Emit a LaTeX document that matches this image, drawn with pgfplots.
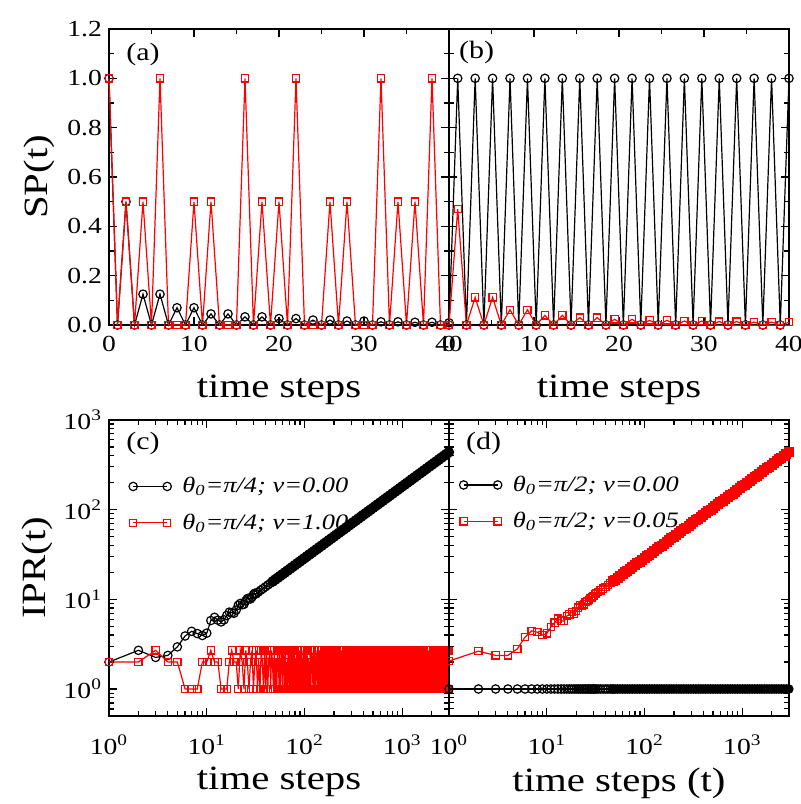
\documentclass[border=0pt]{standalone}
\usepackage{fontspec}
\setmainfont{Liberation Serif}[FakeStretch=1.2]
\usepackage{pgfplots}
\usepackage{pgfplotstable}
\pgfplotsset{compat=1.18}

\pgfplotsset{
  panel/.style={
    scale only axis, width=170pt, height=148pt, anchor=south west,
    axis line style={line width=0.75pt},
    tick style={black, line width=0.6pt},
    major tick length=4pt, minor tick length=2.3pt,
    tick align=inside, xtick pos=both, ytick pos=both,
    clip=false,
    tick label style={font=\fontsize{11.5}{13}\selectfont},
    label style={font=\fontsize{17}{19}\selectfont},
  },
  linpanel/.style={
    xmin=0, xmax=40, ymin=0, ymax=1.2,
    xtick={0,10,20,30,40}, xticklabels={0,10,20,30,40}, minor x tick num=1,
    ytick={0,0.2,0.4,0.6,0.8,1.0,1.2}, minor y tick num=1,
    xticklabel style={yshift=-2pt},
    xlabel={time steps},
    xlabel style={at={(axis description cs:0.5,-0.218)}, anchor=center},
  },
  logpanel/.style={
    xmin=1, xmax=3000, ymin=0.5, ymax=1000,
    xtick={1,10,100,1000}, ytick={1,10,100,1000},
    xticklabels={10\textsuperscript{0},10\textsuperscript{1},10\textsuperscript{2},10\textsuperscript{3}},
    minor xtick={2,3,4,5,6,7,8,9,20,30,40,50,60,70,80,90,200,300,400,500,600,700,800,900,2000,3000},
    minor ytick={0.5,0.6,0.7,0.8,0.9,2,3,4,5,6,7,8,9,20,30,40,50,60,70,80,90,200,300,400,500,600,700,800,900},
    xticklabel style={yshift=-6pt},
    legend cell align=left,
  },
  blk/.style={black, line width=0.6pt, mark=o, mark size=2.1pt, mark options={solid, line width=0.6pt}},
  rsq/.style={red, line width=0.6pt, mark=square, mark size=1.8pt, mark options={solid, line width=0.6pt}},
  legend image code/.code={\draw[#1] plot coordinates {(0pt,0pt) (17pt,0pt)};},
}

% dense part of the growing IPR curves (c black, d red) and of the flat (d) black
\pgfplotstableread{
t ipr one
47.32 15.85 1
50.12 16.60 1
53.09 17.38 1
56.23 18.20 1
59.57 19.05 1
63.10 19.95 1
66.83 20.89 1
70.80 21.88 1
74.99 22.91 1
79.43 23.99 1
84.14 25.12 1
89.13 26.30 1
94.41 27.54 1
100 28.84 1
105.9 30.20 1
112.2 31.62 1
118.9 33.11 1
125.9 34.67 1
133.4 36.31 1
141.3 38.02 1
149.6 39.81 1
158.5 41.69 1
167.9 43.65 1
177.8 45.71 1
188.4 47.86 1
199.5 50.12 1
211.4 52.48 1
223.9 54.95 1
237.1 57.54 1
251.2 60.26 1
266.1 63.10 1
281.8 66.07 1
298.5 69.18 1
316.2 72.44 1
335.0 75.86 1
354.8 79.43 1
375.8 83.18 1
398.1 87.10 1
421.7 91.20 1
446.7 95.50 1
473.2 100.0 1
501.2 104.7 1
530.9 109.6 1
562.3 114.8 1
595.7 120.2 1
631.0 125.9 1
668.3 131.8 1
708.0 138.0 1
749.9 144.5 1
794.3 151.4 1
841.4 158.5 1
891.3 166.0 1
944.1 173.8 1
1000 182.0 1
1059 190.5 1
1122 199.5 1
1189 208.9 1
1259 218.8 1
1334 229.1 1
1413 239.9 1
1496 251.2 1
1585 263.0 1
1679 275.4 1
1778 288.4 1
1884 302.0 1
1995 316.2 1
2114 331.1 1
2239 346.7 1
2371 363.1 1
2512 380.2 1
2661 398.1 1
2818 416.9 1
2985 436.5 1
}\bandtab

\begin{document}
\begin{tikzpicture}
\useasboundingbox (0,0) rectangle (400.5pt,402pt);

% (a)
\begin{axis}[panel, linpanel, at={(54.5pt,239.5pt)},
  yticklabels={0.0,0.2,0.4,0.6,0.8,1.0,1.2},
  ylabel={SP(t)},
  ylabel style={at={(axis description cs:-0.206,0.5)}, anchor=center}]
\addplot[blk] coordinates {(0,1.0)(1,0)(2,0.5)(3,0)(4,0.125)(5,0)(6,0.125)(7,0)(8,0.07)(9,0)(10,0.07)(11,0)(12,0.045)(13,0)(14,0.045)(15,0)(16,0.033)(17,0)(18,0.033)(19,0)(20,0.026)(21,0)(22,0.026)(23,0)(24,0.02)(25,0)(26,0.02)(27,0)(28,0.016)(29,0)(30,0.016)(31,0)(32,0.013)(33,0)(34,0.013)(35,0)(36,0.011)(37,0)(38,0.011)(39,0)(40,0.009)};
\addplot[rsq] coordinates {(0,1)(1,0)(2,0.5)(3,0)(4,0.5)(5,0)(6,1)(7,0)(8,0)(9,0)(10,0.5)(11,0)(12,0.5)(13,0)(14,0)(15,0)(16,1)(17,0)(18,0.5)(19,0)(20,0.5)(21,0)(22,1)(23,0)(24,0)(25,0)(26,0.5)(27,0)(28,0.5)(29,0)(30,0)(31,0)(32,1)(33,0)(34,0.5)(35,0)(36,0.5)(37,0)(38,1)(39,0)(40,0)};
\node[font=\fontsize{12.5}{14}\selectfont] at (rel axis cs:0.1,0.915) {(a)};
\end{axis}

% (b)
\begin{axis}[panel, linpanel, at={(224.5pt,239.5pt)}, yticklabels={}]
\addplot[blk] coordinates {(0,0)(1.026,1)(2.051,0)(3.077,1)(4.103,0)(5.128,1)(6.154,0)(7.179,1)(8.205,0)(9.231,1)(10.256,0)(11.282,1)(12.308,0)(13.333,1)(14.359,0)(15.385,1)(16.410,0)(17.436,1)(18.462,0)(19.487,1)(20.513,0)(21.538,1)(22.564,0)(23.590,1)(24.615,0)(25.641,1)(26.667,0)(27.692,1)(28.718,0)(29.744,1)(30.769,0)(31.795,1)(32.821,0)(33.846,1)(34.872,0)(35.897,1)(36.923,0)(37.949,1)(38.974,0)(40.0,1)};
\addplot[rsq] coordinates {(0,0)(1.026,0.47)(2.051,0)(3.077,0.112)(4.103,0)(5.128,0.112)(6.154,0)(7.179,0.062)(8.205,0)(9.231,0.062)(10.256,0)(11.282,0.039)(12.308,0)(13.333,0.039)(14.359,0)(15.385,0.03)(16.410,0)(17.436,0.03)(18.462,0)(19.487,0.023)(20.513,0)(21.538,0.023)(22.564,0)(23.590,0.019)(24.615,0)(25.641,0.019)(26.667,0)(27.692,0.016)(28.718,0)(29.744,0.016)(30.769,0)(31.795,0.014)(32.821,0)(33.846,0.014)(34.872,0)(35.897,0.012)(36.923,0)(37.949,0.012)(38.974,0)(40.0,0.011)};
\node[font=\fontsize{12.5}{14}\selectfont] at (rel axis cs:0.081,0.922) {(b)};
\end{axis}

% (c)
\begin{loglogaxis}[panel, logpanel, at={(54.5pt,44pt)},
  yticklabels={10\textsuperscript{0},10\textsuperscript{1},10\textsuperscript{2},10\textsuperscript{3}},
  ylabel={IPR(t)},
  ylabel style={at={(axis description cs:-0.21,0.5)}, anchor=center},
  xlabel={time steps},
  xlabel style={at={(axis description cs:0.5,-0.224)}, anchor=center},
  legend style={draw=none, fill=none, anchor=west, row sep=5pt, column sep=3.5pt, font=\fontsize{11}{13}\selectfont, at={(rel axis cs:0.04,0.714)}}]
\addplot[blk] coordinates {(1,2.0)(2,2.7)(3,2.25)(4,2.37)(5,2.95)(6,3.9)(7,4.4)(8,4.15)(9,3.95)(10,4.2)(11,5.8)(12,6.3)(13,5.85)(14,5.6)(15,5.9)(16,6.6)(17,7.2)(18,7.1)(19,7.0)(20,7.6)(21,8.6)(22,9.0)(23,8.7)(24,8.8)(25,9.6)(26,10.2)(27,10.3)(28,10.1)(29,10.6)(30,11.3)(31,11.7)(32,11.5)(33.50,12.02)(35.48,12.59)(37.58,13.18)(39.81,13.80)(42.17,14.45)(44.67,15.14)(47.32,15.85)};
\addlegendentry{\textit{θ\textsubscript{0}=π/4; ν=0.00}}
\addplot[rsq] coordinates {(1,2)(2,2)(3,2.7)(4,2)(5,2)(6,1)(7,1)(8,1)(9,2)(10,2)(11,2.7)(12,2)(13,2)(14,1)(15,1)(16,1)(17,2)(18,2.7)(19,2)(20,2)(21,1)(22,2.7)(23,2)(24,1)(25,2.7)(26,2)(27,1)(28,2)(29,2.7)(30,1)(31,2)(32,2.7)(33,1)(34,2)(35,1)(36,2.7)(37,2)(38,1)(39,2.7)(40,1)
(41,2.7)(42,1)(43,2)(44,2.7)(45,1)(46,2.7)(47,2)(48,1)(49,2.7)(50,1)(51,2)(52,1)(53,2.7)(54,2)(55,1)(56,2.7)(57,1)(58,2)(59,2.7)(60,1)(61,2.7)(62,2)(63,1)(64,2.7)(65,1)(66,2)(67,1)(68,2.7)(69,2)(70,1)(71,2.7)(72,1)(73,2)(74,2.7)(75,1)(76,2.7)(77,2)(78,1)(79,2.7)(80,1)(81,2)(82,1)(83,2.7)(84,2)(85,1)(86,2.7)(87,1)(88,2)(89,2.7)(90,1)(91,2.7)(92,2)(93,1)(94,2.7)(95,1)(96,2)(97,1)(98,2.7)(99,2)(100,1)
(102,2.7)(104,1)(106,2.7)(108,1)(110,2)(112,1)(114,2.7)(116,1)(118,2.7)(120,2)(122,1)(124,2.7)(126,1)(128,2.7)(130,1)(132,2)(134,2.7)(136,1)(138,2.7)(140,1)(142,2.7)(144,2)(146,1)(148,2.7)(150,1)(152,2.7)(154,1)(156,2)(158,2.7)(160,1)(162,2.7)(164,1)(166,2.7)(168,2)(170,1)(172,2.7)(174,1)(176,2.7)(178,1)(180,2)(182,2.7)(184,1)(186,2.7)(188,1)(190,2.7)(192,2)(194,1)(196,2.7)(198,1)(200,2.7)
(204,1)(208,2.7)(212,1)(216,2.7)(220,1)(224,2.7)(228,1)(232,2.7)(236,1)(240,2.7)(244,1)(248,2.7)(252,1)(256,2.7)(260,1)(264,2.7)(268,1)(272,2.7)(276,1)(280,2.7)(284,1)(288,2.7)(292,1)(296,2.7)(300,1)(304,2.7)(308,1)(312,2.7)(316,1)(320,2.7)(324,1)(328,2.7)(332,1)(336,2.7)(340,1)(344,2.7)(348,1)(352,2.7)(356,1)(360,2.7)(364,1)(368,2.7)(372,1)(376,2.7)(380,1)(384,2.7)(388,1)(392,2.7)(396,1)(400,2.7)
(408,1)(416,2.7)(424,1)(432,2.7)(440,1)(448,2.7)(456,1)(464,2.7)(472,1)(480,2.7)(488,1)(496,2.7)(504,1)(512,2.7)(520,1)(528,2.7)(536,1)(544,2.7)(552,1)(560,2.7)(568,1)(576,2.7)(584,1)(592,2.7)(600,1)(608,2.7)(616,1)(624,2.7)(632,1)(640,2.7)(648,1)(656,2.7)(664,1)(672,2.7)(680,1)(688,2.7)(696,1)(704,2.7)(712,1)(720,2.7)(728,1)(736,2.7)(744,1)(752,2.7)(760,1)(768,2.7)(776,1)(784,2.7)(792,1)(800,2.7)
(816,1)(832,2.7)(848,1)(864,2.7)(880,1)(896,2.7)(912,1)(928,2.7)(944,1)(960,2.7)(976,1)(992,2.7)(1008,1)(1024,2.7)(1040,1)(1056,2.7)(1072,1)(1088,2.7)(1104,1)(1120,2.7)(1136,1)(1152,2.7)(1168,1)(1184,2.7)(1200,1)(1216,2.7)(1232,1)(1248,2.7)(1264,1)(1280,2.7)(1296,1)(1312,2.7)(1328,1)(1344,2.7)(1360,1)(1376,2.7)(1392,1)(1408,2.7)(1424,1)(1440,2.7)(1456,1)(1472,2.7)(1488,1)(1504,2.7)(1520,1)(1536,2.7)(1552,1)(1568,2.7)(1584,1)(1600,2.7)
(1632,1)(1664,2.7)(1696,1)(1728,2.7)(1760,1)(1792,2.7)(1824,1)(1856,2.7)(1888,1)(1920,2.7)(1952,1)(1984,2.7)(2016,1)(2048,2.7)(2080,1)(2112,2.7)(2144,1)(2176,2.7)(2208,1)(2240,2.7)(2272,1)(2304,2.7)(2336,1)(2368,2.7)(2400,1)(2432,2.7)(2464,1)(2496,2.7)(2528,1)(2560,2.7)(2592,1)(2624,2.7)(2656,1)(2688,2.7)(2720,1)(2752,2.7)(2784,1)(2816,2.7)(2848,1)(2880,2.7)(2912,1)(2944,2.7)(2976,1)(3000,2.7)};
\addlegendentry{\textit{θ\textsubscript{0}=π/4; ν=1.00}}
\addplot[blk, mark=*, mark size=2.4pt, forget plot] table[x=t, y=ipr] {\bandtab};
\node[font=\fontsize{12.5}{14}\selectfont] at (rel axis cs:0.1,0.919) {(c)};
\end{loglogaxis}

% (d)
\begin{loglogaxis}[panel, logpanel, at={(224.5pt,44pt)}, yticklabels={},
  xlabel={time steps (t)},
  xlabel style={at={(axis description cs:0.5,-0.229)}, anchor=center},
  legend style={draw=none, fill=none, anchor=west, row sep=5pt, column sep=3.5pt, font=\fontsize{11}{13}\selectfont, at={(rel axis cs:0.012,0.719)}}]
\addplot[blk] coordinates {(1,1)(2,1)(3,1)(4,1)(5,1)(6,1)(7,1)(8,1)(9,1)(10,1)(11,1)(12,1)(13,1)(14,1)(15,1)(16,1)(17,1)(18,1)(19,1)(20,1)(21,1)(22,1)(23,1)(24,1)(25,1)(26,1)(27,1)(28,1)(29,1)(30,1)(31,1)(32,1)(33.50,1)(35.48,1)(37.58,1)(39.81,1)(42.17,1)(44.67,1)(47.32,1)};
\addlegendentry{\textit{θ\textsubscript{0}=π/2; ν=0.00}}
\addplot[rsq] coordinates {(1,2.05)(2,2.64)(3,2.37)(4,2.37)(5,2.8)(6,3.8)(7,4.45)(8,4.3)(9,3.98)(10,4.16)(11,4.9)(12,5.5)(13,6.1)(14,5.8)(15,5.7)(16,6.5)(17,6.8)(18,7.2)(19,6.9)(20,7.4)(21,8.1)(22,8.7)(23,8.4)(24,8.8)(25,9.4)(26,9.6)(27,9.9)(28,10.3)(29,10.5)(30,10.9)(31,11.5)(32,11.6)(33.50,12.02)(35.48,12.59)(37.58,13.18)(39.81,13.80)(42.17,14.45)(44.67,15.14)(47.32,15.85)};
\addlegendentry{\textit{θ\textsubscript{0}=π/2; ν=0.05}}
\addplot[blk, mark=*, forget plot] table[x=t, y=one] {\bandtab};
\addplot[rsq, mark=square*, mark size=2.2pt, forget plot] table[x=t, y=ipr] {\bandtab};
\node[font=\fontsize{12.5}{14}\selectfont] at (rel axis cs:0.102,0.919) {(d)};
\end{loglogaxis}
\end{tikzpicture}
\end{document}
